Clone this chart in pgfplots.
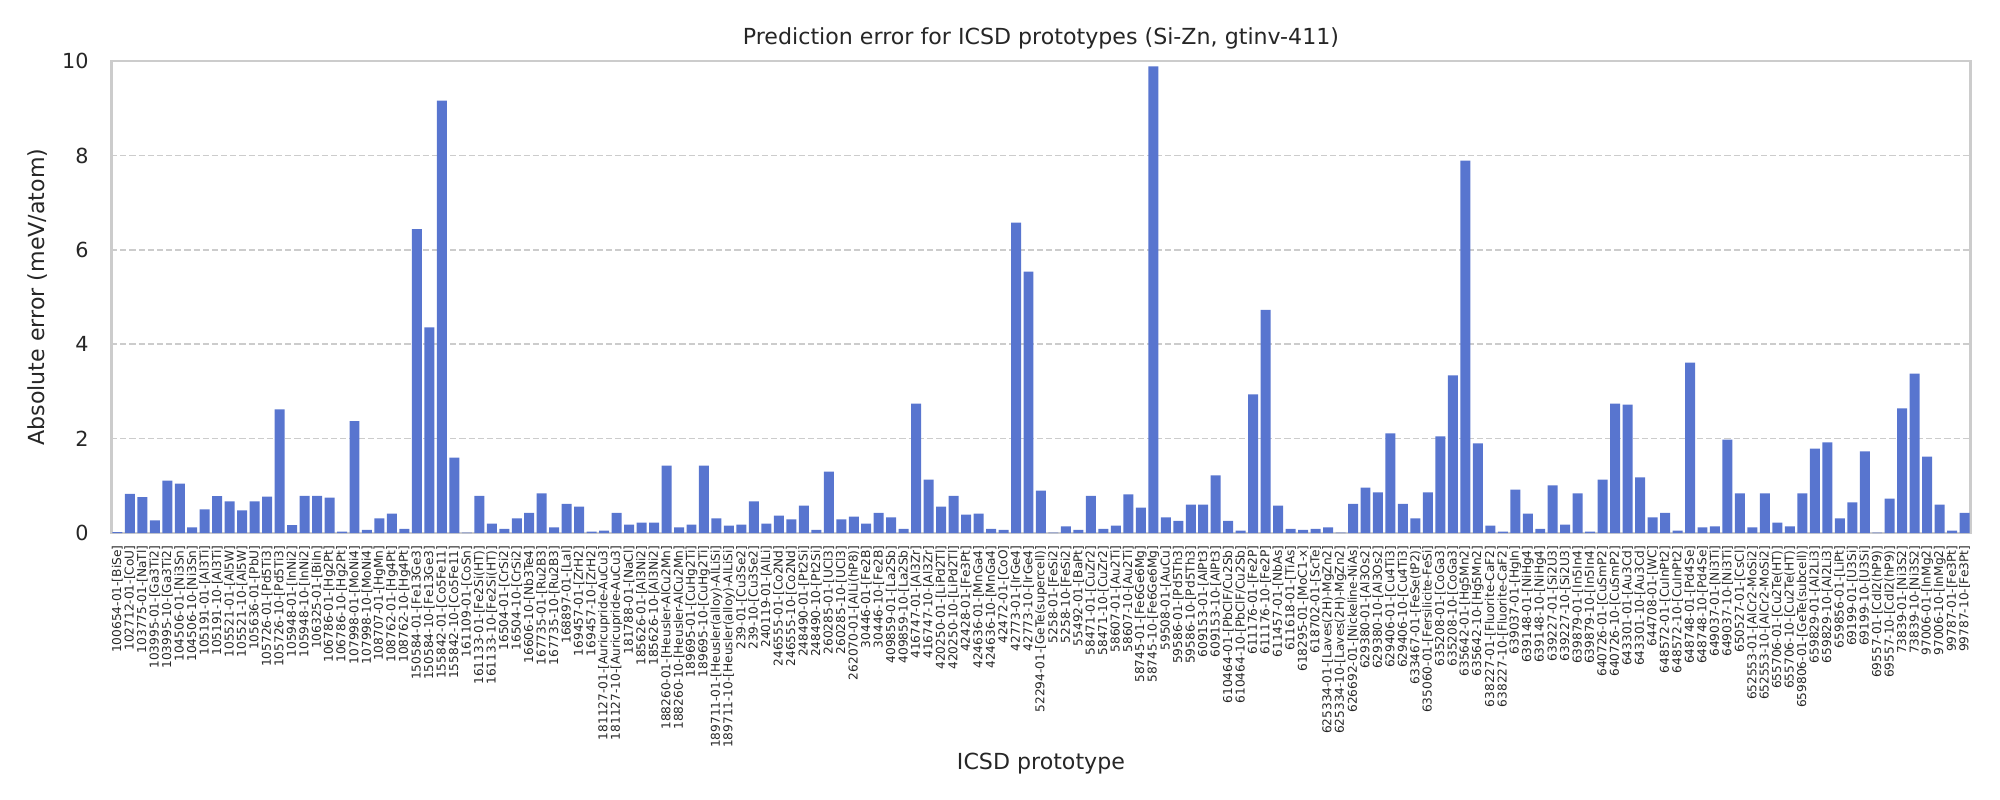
\documentclass[border=0pt]{standalone}
\usepackage{fontspec}
\setmainfont{DejaVu Sans}
\usepackage{pgfplots}
\pgfplotsset{compat=1.18}
\usepackage{pgfplotstable}
\definecolor{barblue}{RGB}{88,117,207}
\definecolor{spine}{RGB}{204,204,204}

\pgfplotstableread{
x y
0 0.02
1 0.83
2 0.76
3 0.27
4 1.11
5 1.05
6 0.12
7 0.50
8 0.78
9 0.67
10 0.48
11 0.67
12 0.77
13 2.62
14 0.17
15 0.79
16 0.79
17 0.75
18 0.03
19 2.37
20 0.07
21 0.31
22 0.41
23 0.09
24 6.44
25 4.36
26 9.16
27 1.60
28 0.01
29 0.79
30 0.20
31 0.09
32 0.31
33 0.43
34 0.84
35 0.12
36 0.62
37 0.56
38 0.03
39 0.05
40 0.43
41 0.18
42 0.22
43 0.22
44 1.43
45 0.12
46 0.18
47 1.43
48 0.31
49 0.16
50 0.18
51 0.67
52 0.20
53 0.37
54 0.29
55 0.58
56 0.07
57 1.30
58 0.29
59 0.35
60 0.20
61 0.43
62 0.33
63 0.09
64 2.74
65 1.13
66 0.56
67 0.79
68 0.39
69 0.41
70 0.09
71 0.07
72 6.58
73 5.54
74 0.90
75 0.01
76 0.14
77 0.07
78 0.79
79 0.09
80 0.16
81 0.82
82 0.54
83 9.89
84 0.33
85 0.26
86 0.60
87 0.60
88 1.22
89 0.26
90 0.05
91 2.94
92 4.73
93 0.58
94 0.09
95 0.07
96 0.09
97 0.12
98 0.01
99 0.62
100 0.96
101 0.86
102 2.11
103 0.62
104 0.31
105 0.86
106 2.05
107 3.34
108 7.89
109 1.90
110 0.16
111 0.03
112 0.92
113 0.41
114 0.09
115 1.01
116 0.18
117 0.84
118 0.03
119 1.13
120 2.74
121 2.72
122 1.18
123 0.33
124 0.43
125 0.05
126 3.61
127 0.12
128 0.14
129 1.98
130 0.84
131 0.12
132 0.84
133 0.22
134 0.14
135 0.84
136 1.79
137 1.92
138 0.31
139 0.65
140 1.73
141 0.01
142 0.73
143 2.64
144 3.38
145 1.62
146 0.60
147 0.05
148 0.43
}\errtable

\begin{document}
\begin{tikzpicture}
\begin{axis}[
  at={(40bp,96.1bp)}, anchor=south west,
  width=669.5bp, height=169.9bp, scale only axis,
  xmin=-0.5, xmax=148.5, ymin=0, ymax=10,
  ytick={0,2,4,6,8,10},
  xtick={0,...,148},
  xticklabels={
{100654-01-[BiSe]},{102712-01-[CoU]},{103775-01-[NaTl]},{103995-01-[Ga3Ti2]},{103995-10-[Ga3Ti2]},
{104506-01-[Ni3Sn]},{104506-10-[Ni3Sn]},{105191-01-[Al3Ti]},{105191-10-[Al3Ti]},{105521-01-[Al5W]},
{105521-10-[Al5W]},{105636-01-[PbU]},{105726-01-[Pd5Ti3]},{105726-10-[Pd5Ti3]},{105948-01-[InNi2]},
{105948-10-[InNi2]},{106325-01-[BiIn]},{106786-01-[Hg2Pt]},{106786-10-[Hg2Pt]},{107998-01-[MoNi4]},
{107998-10-[MoNi4]},{108707-01-[HgMn]},{108762-01-[Hg4Pt]},{108762-10-[Hg4Pt]},{150584-01-[Fe13Ge3]},
{150584-10-[Fe13Ge3]},{155842-01-[Co5Fe11]},{155842-10-[Co5Fe11]},{161109-01-[CoSn]},{161133-01-[Fe2Si(HT)]},
{161133-10-[Fe2Si(HT)]},{16504-01-[CrSi2]},{16504-10-[CrSi2]},{16606-10-[Nb3Te4]},{167735-01-[Ru2B3]},
{167735-10-[Ru2B3]},{168897-01-[LaI]},{169457-01-[ZrH2]},{169457-10-[ZrH2]},{181127-01-[Auricupride-AuCu3]},
{181127-10-[Auricupride-AuCu3]},{181788-01-[NaCl]},{185626-01-[Al3Ni2]},{185626-10-[Al3Ni2]},{188260-01-[Heusler-AlCu2Mn]},
{188260-10-[Heusler-AlCu2Mn]},{189695-01-[CuHg2Ti]},{189695-10-[CuHg2Ti]},{189711-01-[Heusler(alloy)-AlLiSi]},{189711-10-[Heusler(alloy)-AlLiSi]},
{239-01-[Cu3Se2]},{239-10-[Cu3Se2]},{240119-01-[AlLi]},{246555-01-[Co2Nd]},{246555-10-[Co2Nd]},
{248490-01-[Pt2Si]},{248490-10-[Pt2Si]},{260285-01-[UCl3]},{260285-10-[UCl3]},{262070-01-[AlLi(hP8)]},
{30446-01-[Fe2B]},{30446-10-[Fe2B]},{409859-01-[La2Sb]},{409859-10-[La2Sb]},{416747-01-[Al3Zr]},
{416747-10-[Al3Zr]},{420250-01-[LiPd2Tl]},{420250-10-[LiPd2Tl]},{42428-01-[Fe3Pt]},{424636-01-[MnGa4]},
{424636-10-[MnGa4]},{42472-01-[CoO]},{42773-01-[IrGe4]},{42773-10-[IrGe4]},{52294-01-[GeTe(supercell)]},
{5258-01-[FeSi2]},{5258-10-[FeSi2]},{55492-01-[BaPt]},{58471-01-[CuZr2]},{58471-10-[CuZr2]},
{58607-01-[Au2Ti]},{58607-10-[Au2Ti]},{58745-01-[Fe6Ge6Mg]},{58745-10-[Fe6Ge6Mg]},{59508-01-[AuCu]},
{59586-01-[Pd5Th3]},{59586-10-[Pd5Th3]},{609153-01-[AlPt3]},{609153-10-[AlPt3]},{610464-01-[PbClF/Cu2Sb]},
{610464-10-[PbClF/Cu2Sb]},{611176-01-[Fe2P]},{611176-10-[Fe2P]},{611457-01-[NbAs]},{611618-01-[TiAs]},
{618295-01-[MoC1-x]},{618702-01-[ScTe]},{625334-01-[Laves(2H)-MgZn2]},{625334-10-[Laves(2H)-MgZn2]},{626692-01-[Nickeline-NiAs]},
{629380-01-[Al3Os2]},{629380-10-[Al3Os2]},{629406-01-[Cu4Ti3]},{629406-10-[Cu4Ti3]},{633467-01-[FeSe(tP2)]},
{635060-01-[Fersilicite-FeSi]},{635208-01-[CoGa3]},{635208-10-[CoGa3]},{635642-01-[Hg5Mn2]},{635642-10-[Hg5Mn2]},
{638227-01-[Fluorite-CaF2]},{638227-10-[Fluorite-CaF2]},{639037-01-[HgIn]},{639148-01-[NiHg4]},{639148-10-[NiHg4]},
{639227-01-[Si2U3]},{639227-10-[Si2U3]},{639879-01-[In5In4]},{639879-10-[In5In4]},{640726-01-[CuSmP2]},
{640726-10-[CuSmP2]},{643301-01-[Au3Cd]},{643301-10-[Au3Cd]},{644708-01-[WC]},{648572-01-[CuInPt2]},
{648572-10-[CuInPt2]},{648748-01-[Pd4Se]},{648748-10-[Pd4Se]},{649037-01-[Ni3Ti]},{649037-10-[Ni3Ti]},
{650527-01-[CsCl]},{652553-01-[AlCr2-MoSi2]},{652553-10-[AlCr2-MoSi2]},{655706-01-[Cu2Te(HT)]},{655706-10-[Cu2Te(HT)]},
{659806-01-[GeTe(subcell)]},{659829-01-[Al2Li3]},{659829-10-[Al2Li3]},{659856-01-[LiPt]},{69199-01-[U3Si]},
{69199-10-[U3Si]},{69557-01-[CdI2(hP9)]},{69557-10-[CdI2(hP9)]},{73839-01-[Ni3S2]},{73839-10-[Ni3S2]},
{97006-01-[InMg2]},{97006-10-[InMg2]},{99787-01-[Fe3Pt]},{99787-10-[Fe3Pt]}
  },
  axis line style={spine, line width=1bp},
  major tick length=0pt,
  ymajorgrids,
  grid style={spine, dash pattern=on 2.2bp off 1.1bp, line width=0.6bp},
  /pgf/number format/assume math mode=true,
  yticklabel style={font=\fontsize{7.5}{9}\selectfont, inner xsep=0pt, xshift=-7.9bp, text=black!85},
  xticklabel style={rotate=90, anchor=east, font=\fontsize{4.4}{4.4}\selectfont, inner xsep=4.3bp, inner ysep=0pt, text=black!85},
  title={Prediction error for ICSD prototypes (Si-Zn, gtinv-411)},
  title style={font=\fontsize{8}{9}\selectfont, at={(0.5,1)}, anchor=center, yshift=2.2bp, text=black!85},
  ylabel={Absolute error (meV/atom)},
  ylabel style={font=\fontsize{8}{9}\selectfont, at={(axis description cs:-0.0393,0.5)}, anchor=center, text=black!85},
  xlabel={ICSD prototype},
  xlabel style={font=\fontsize{8}{9}\selectfont, at={(axis description cs:0.5,-0.489)}, anchor=center, text=black!85},
]
\addplot[ybar, bar width=0.8, fill=barblue, draw=none] table[x=x,y=y]{\errtable};
\end{axis}
\pgfresetboundingbox
\path[use as bounding box] (0,0) rectangle (720bp,288bp);
\end{tikzpicture}
\end{document}
